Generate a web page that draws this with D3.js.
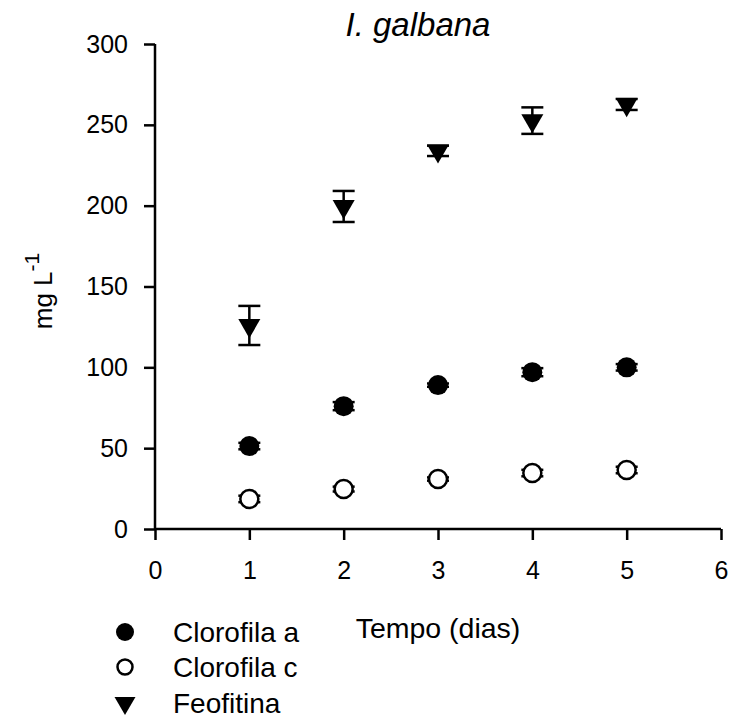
<!DOCTYPE html>
<html>
<head>
<meta charset="utf-8">
<script src="https://cdn.jsdelivr.net/npm/d3@7"></script>
<style>
  html, body { margin: 0; padding: 0; background: #fff; }
  svg { display: block; font-family: "Liberation Sans", Arial, sans-serif; }
</style>
</head>
<body>
<svg id="chart" width="732" height="718"></svg>
<script>
// Pigment concentrations of I. galbana over the culture period (mean ± error)
const days = [1, 2, 3, 4, 5];
const clorofilaA = [51.3, 76, 89, 97, 100];
const clorofilaAErr = [2, 2.5, 1, 2.5, 2];
const clorofilaC = [18.6, 24.7, 30.9, 34.6, 36.5];
const clorofilaCErr = [2, 1.5, 1, 2, 2];
const feofitina = [125.9, 199.5, 233.9, 252.6, 262.6];
const feofitinaErr = [12.1, 9.6, 3.2, 8.2, 3.4];

const xTicks = [0, 1, 2, 3, 4, 5, 6];
const yTicks = [0, 50, 100, 150, 200, 250, 300];
const seriesNames = ["Clorofila a", "Clorofila c", "Feofitina"];

const svg = d3.select("#chart");

const x = d3.scaleLinear().domain([0, 6]).range([155, 721]);
const y = d3.scaleLinear().domain([0, 300]).range([529, 44]);

// Axes
const xAxis = d3.axisBottom(x).tickValues(xTicks).tickFormat(d3.format("d"))
  .tickSize(11).tickPadding(21);
const yAxis = d3.axisLeft(y).tickValues(yTicks).tickFormat(d3.format("d"))
  .tickSize(11).tickPadding(16);

const gx = svg.append("g").attr("transform", `translate(0,${y(0)})`).call(xAxis);
const gy = svg.append("g").attr("transform", `translate(${x(0)},0)`).call(yAxis);

[gx, gy].forEach(g => {
  g.select(".domain").attr("stroke", "#000").attr("stroke-width", 2.5);
  g.selectAll(".tick line").attr("stroke", "#000").attr("stroke-width", 2.5);
  g.selectAll(".tick text").attr("fill", "#000").attr("font-size", 25)
    .attr("font-family", "Liberation Sans, Arial, sans-serif");
});
// plain axis lines without end ticks
gx.select(".domain").attr("d", `M${x(0)},0H${x(6)}`);
gy.select(".domain").attr("d", `M0,${y(0)}V${y(300)}`);

// Series data
const series = [
  { name: seriesNames[0], vals: clorofilaA, err: clorofilaAErr, type: "filled" },
  { name: seriesNames[1], vals: clorofilaC, err: clorofilaCErr, type: "open" },
  { name: seriesNames[2], vals: feofitina, err: feofitinaErr, type: "triangle" }
];

const capHalf = 11;
const plot = svg.append("g");

series.forEach(s => {
  const pts = days.map((d, i) => ({ d, v: s.vals[i], e: s.err[i] }));
  const eb = plot.append("g").attr("stroke", "#000").attr("stroke-width", 2.5);
  pts.forEach(p => {
    const cx = x(p.d), top = y(p.v + p.e), bot = y(p.v - p.e);
    eb.append("line").attr("x1", cx).attr("x2", cx).attr("y1", top).attr("y2", bot);
    eb.append("line").attr("x1", cx - capHalf).attr("x2", cx + capHalf).attr("y1", top).attr("y2", top);
    eb.append("line").attr("x1", cx - capHalf).attr("x2", cx + capHalf).attr("y1", bot).attr("y2", bot);
  });
  const mg = plot.append("g");
  if (s.type === "triangle") {
    mg.selectAll("path").data(pts).join("path")
      .attr("d", d3.symbol(d3.symbolTriangle, 210)())
      .attr("transform", p => `translate(${x(p.d)},${y(p.v)}) rotate(180)`)
      .attr("fill", "#000");
  } else {
    mg.selectAll("circle").data(pts).join("circle")
      .attr("cx", p => x(p.d)).attr("cy", p => y(p.v))
      .attr("r", s.type === "filled" ? 10 : 9)
      .attr("fill", s.type === "filled" ? "#000" : "#fff")
      .attr("stroke", "#000").attr("stroke-width", s.type === "filled" ? 0 : 2.5);
  }
});

// Title
svg.append("text").attr("x", 418).attr("y", 36).attr("text-anchor", "middle")
  .attr("font-size", 33).attr("font-style", "italic").text("I. galbana");

// Axis labels
svg.append("text").attr("x", 438).attr("y", 638).attr("text-anchor", "middle")
  .attr("font-size", 28.5).text("Tempo (dias)");

const yl = svg.append("text").attr("transform", "translate(52,291) rotate(-90)")
  .attr("text-anchor", "middle").attr("font-size", 26);
yl.append("tspan").text("mg L");
yl.append("tspan").attr("dy", -13).attr("font-size", 21).text("-1");

// Legend
const legendY = [632, 667, 703];
const lg = svg.append("g");
series.forEach((s, i) => {
  const ly = legendY[i];
  if (s.type === "triangle") {
    lg.append("path").attr("d", d3.symbol(d3.symbolTriangle, 190)())
      .attr("transform", `translate(125,${ly}) rotate(180)`).attr("fill", "#000");
  } else {
    lg.append("circle").attr("cx", 125).attr("cy", ly)
      .attr("r", s.type === "filled" ? 9 : 7.5)
      .attr("fill", s.type === "filled" ? "#000" : "#fff")
      .attr("stroke", "#000").attr("stroke-width", s.type === "filled" ? 0 : 2.5);
  }
  lg.append("text").attr("x", 173).attr("y", ly + 10).attr("font-size", 28).text(s.name);
});
</script>
</body>
</html>
